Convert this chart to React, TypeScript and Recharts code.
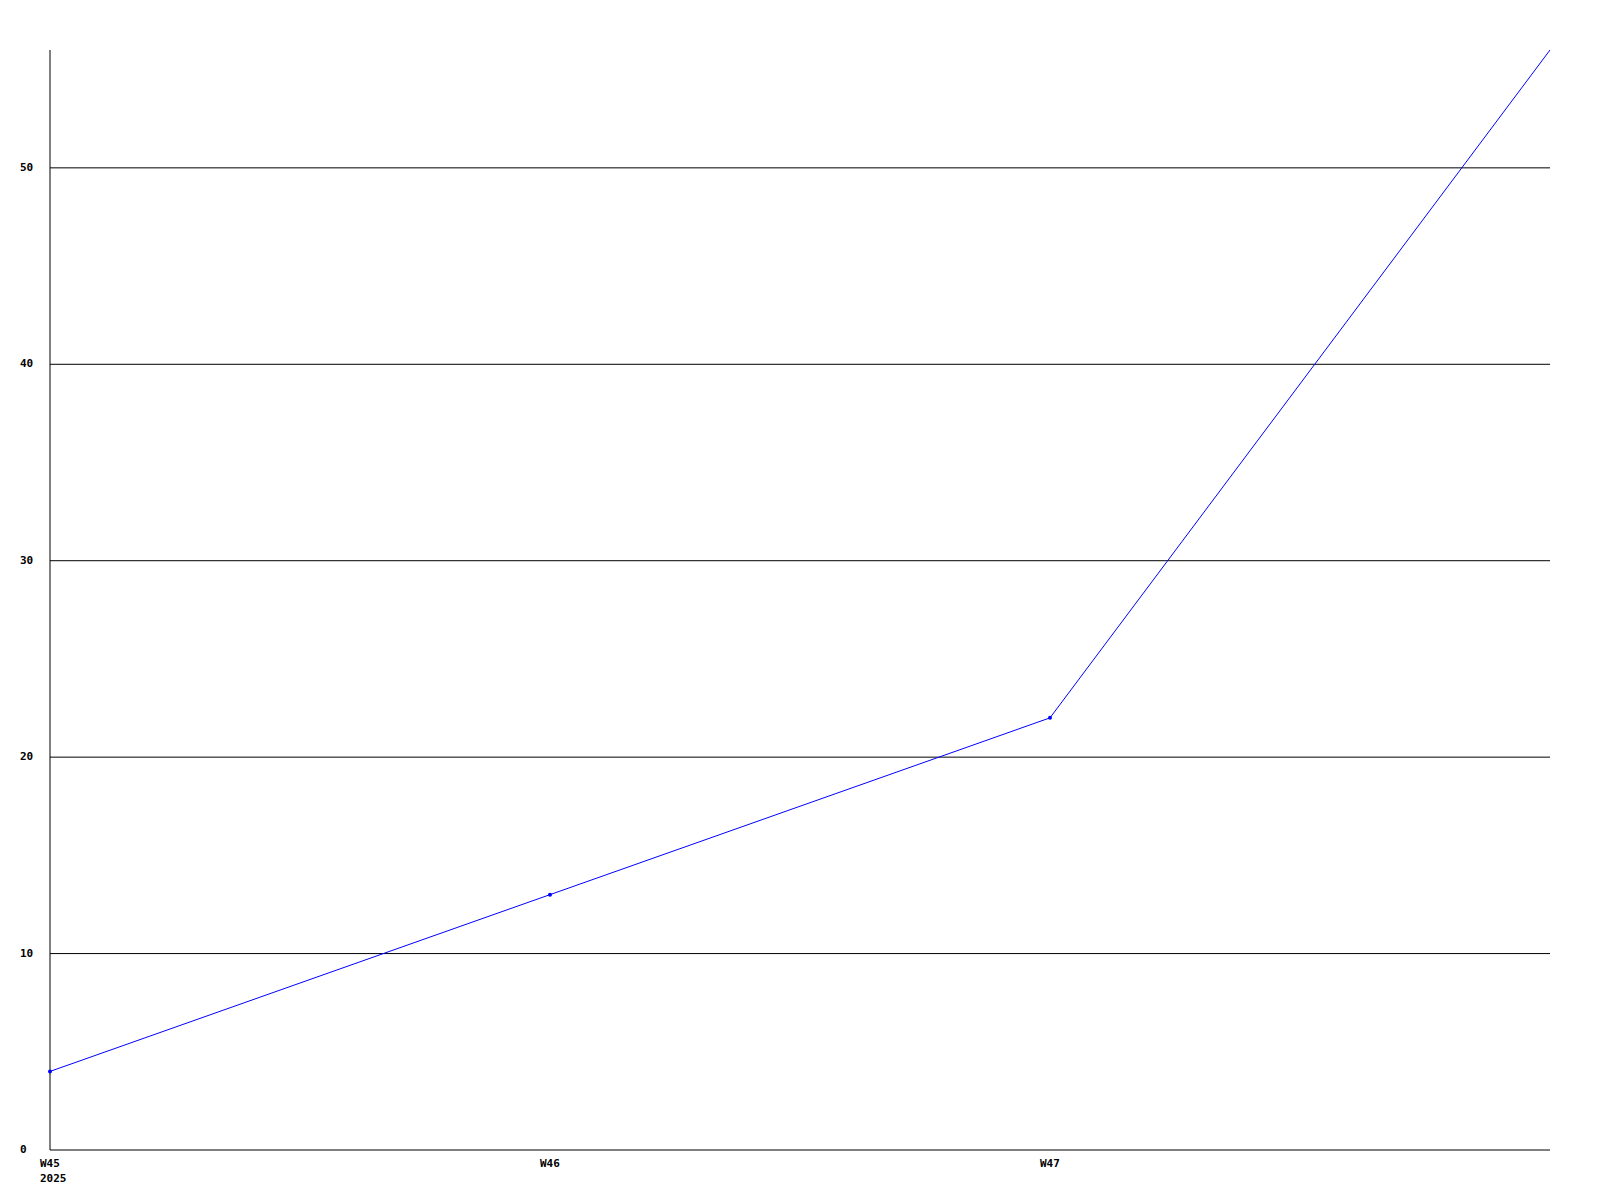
import { Line, LineChart, ReferenceLine, XAxis, YAxis } from "recharts";

const weeks = ["W45", "W46", "W47", "W48"];
const weekLabels = ["W45", "W46", "W47", ""];
const yearLabels = ["2025", "", "", ""];
const counts = [4, 13, 22, 56];
const yTicks = [0, 10, 20, 30, 40, 50];
const gridValues = [10, 20, 30, 40, 50];

const data = weeks.map((week, i) => ({ week, count: counts[i] }));

const font = "'DejaVu Sans Mono', monospace";

function WeekTick(props: any) {
  const { x, y, index } = props;
  return (
    <g>
      <text x={x - 10} y={y + 9} fontFamily={font} fontWeight="bold" fontSize={11} fill="#000">
        {weekLabels[index]}
      </text>
      {yearLabels[index] ? (
        <text x={x - 10} y={y + 24} fontFamily={font} fontWeight="bold" fontSize={11} fill="#000">
          {yearLabels[index]}
        </text>
      ) : null}
    </g>
  );
}

function CountTick(props: any) {
  const { y, payload } = props;
  return (
    <text x={20} y={y + 3} fontFamily={font} fontWeight="bold" fontSize={11} fill="#000">
      {payload.value}
    </text>
  );
}

function SmallDot(props: any) {
  const { cx, cy, index } = props;
  if (index === counts.length - 1) return <g key={index} />;
  return <circle key={index} cx={cx} cy={cy} r={2} fill="#0000ff" />;
}

document.body.style.margin = "0";

export default function App() {
  return (
    <div style={{ width: 1600, height: 1200, background: "#fff" }}>
      <LineChart width={1600} height={1200} data={data} margin={{ top: 50, right: 50, bottom: 0, left: 0 }}>
        <XAxis
          dataKey="week"
          height={50}
          axisLine={{ stroke: "#000" }}
          tickLine={false}
          tick={<WeekTick />}
          interval={0}
        />
        <YAxis
          width={50}
          domain={[0, 56]}
          ticks={yTicks}
          axisLine={{ stroke: "#000" }}
          tickLine={false}
          tick={<CountTick />}
          allowDataOverflow
        />
        {gridValues.map((v) => (
          <ReferenceLine key={v} y={v} stroke="#000" strokeWidth={1} />
        ))}
        <Line
          type="linear"
          dataKey="count"
          stroke="#0000ff"
          strokeWidth={1}
          dot={<SmallDot />}
          activeDot={false}
          isAnimationActive={false}
        />
      </LineChart>
    </div>
  );
}
